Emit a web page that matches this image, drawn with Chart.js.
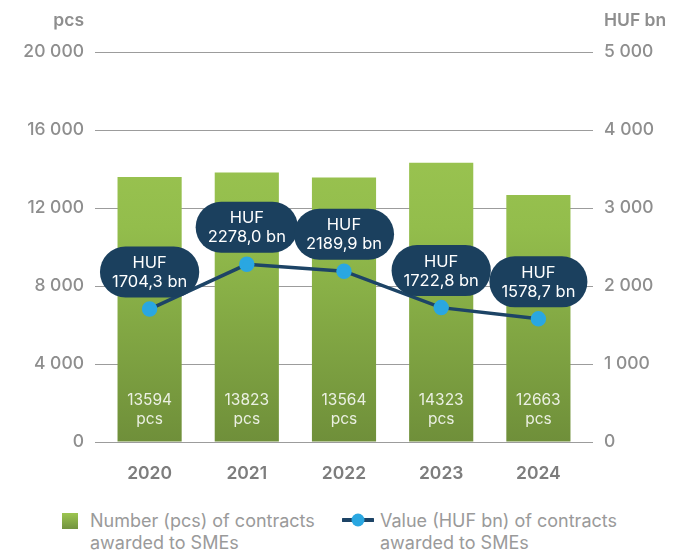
<!DOCTYPE html>
<html>
<head>
<meta charset="utf-8">
<script src="https://cdn.jsdelivr.net/npm/chart.js@4.4.1/dist/chart.umd.min.js"></script>
<style>
  body { margin: 0; background: #fff; font-family: Inter, "Noto Sans", sans-serif; }
  #wrap { position: relative; width: 699px; height: 554px; }
  #chartBox { position: absolute; left: 0; top: 0; width: 699px; height: 500px; }
  .legend { position: absolute; top: 510px; font-size: 18px; line-height: 22px; color: #9a9a9a; }
  .legend .mark { position: absolute; left: 0; top: 3px; }
  .legend .txt { position: absolute; left: 28px; top: 0; white-space: nowrap; }
</style>
</head>
<body>
<div id="wrap">
  <div id="chartBox"><canvas id="smeChart" width="699" height="500"></canvas></div>
  <div class="legend" id="legBar" style="left:62px;">
    <div class="mark" style="width:16px;height:16px;background:linear-gradient(#9cc550,#729340);"></div>
    <div class="txt">Number (pcs) of contracts<br>awarded to SMEs</div>
  </div>
  <div class="legend" id="legLine" style="left:342px;">
    <svg class="mark" width="32" height="16" style="top:2px;">
      <line x1="1" y1="8" x2="31" y2="8" stroke="#1d4466" stroke-width="4" stroke-linecap="round"/>
      <circle cx="16" cy="8" r="6.5" fill="#2aa7e1"/>
    </svg>
    <div class="txt" style="left:38px;">Value (HUF bn) of contracts<br>awarded to SMEs</div>
  </div>
</div>
<script>
const years = ['2020', '2021', '2022', '2023', '2024'];
const contractsPcs = [13594, 13823, 13564, 14323, 12663];
const valueHufBn = [1704.3, 2278.0, 2189.9, 1722.8, 1578.7];
const leftTicks = [0, 4000, 8000, 12000, 16000, 20000];
const rightTicks = [0, 1000, 2000, 3000, 4000, 5000];

const tickColor = '#8e8e8e';
const gridColor = '#9c9c9c';

function spaced(v) {
  return String(v).replace(/\B(?=(\d{3})+(?!\d))/g, ' ');
}

function barGradient(context) {
  const area = context.chart.chartArea;
  if (!area) return '#8fb34a';
  const g = context.chart.ctx.createLinearGradient(0, area.top, 0, area.bottom);
  g.addColorStop(0, '#a2cb55');
  g.addColorStop(0.45, '#93bd4c');
  g.addColorStop(1, '#6f8f3a');
  return g;
}

// axis titles, bar labels and value bubbles
const extras = {
  id: 'extras',
  afterDatasetsDraw(chart) {
    const ctx = chart.ctx;
    const area = chart.chartArea;
    ctx.save();

    ctx.fillStyle = tickColor;
    ctx.font = '600 17.5px Inter, "Noto Sans", sans-serif';
    ctx.textBaseline = 'middle';
    ctx.textAlign = 'right';
    ctx.fillText('pcs', 84, 21);
    ctx.textAlign = 'left';
    ctx.fillText('HUF bn', 604, 21);

    const barMeta = chart.getDatasetMeta(1);
    ctx.font = '15.5px Inter, "Noto Sans", sans-serif';
    ctx.fillStyle = 'rgba(255,255,255,0.85)';
    ctx.textAlign = 'center';
    barMeta.data.forEach((bar, i) => {
      ctx.fillText(String(contractsPcs[i]), bar.x, area.bottom - 42);
      ctx.fillText('pcs', bar.x, area.bottom - 23);
    });

    const lineMeta = chart.getDatasetMeta(0);
    ctx.font = '16.5px Inter, "Noto Sans", sans-serif';
    lineMeta.data.forEach((pt, i) => {
      const line2 = valueHufBn[i].toFixed(1).replace('.', ',') + ' bn';
      const w = ctx.measureText(line2).width + 24;
      const h = 51;
      const cx = pt.x;
      const cy = pt.y - 37;
      ctx.fillStyle = '#1b405e';
      ctx.beginPath();
      ctx.roundRect(cx - w / 2, cy - h / 2, w, h, h / 2);
      ctx.fill();
      ctx.fillStyle = '#ffffff';
      ctx.fillText('HUF', cx, cy - 9);
      ctx.fillText(line2, cx, cy + 10);
    });
    ctx.restore();
  }
};

new Chart(document.getElementById('smeChart'), {
  type: 'bar',
  data: {
    labels: years,
    datasets: [
      {
        type: 'line',
        label: 'Value (HUF bn) of contracts awarded to SMEs',
        data: valueHufBn,
        yAxisID: 'y1',
        borderColor: '#1d4466',
        borderWidth: 3.5,
        pointBackgroundColor: '#2aa7e1',
        pointBorderColor: '#2aa7e1',
        pointRadius: 6,
        tension: 0,
        order: 0
      },
      {
        label: 'Number (pcs) of contracts awarded to SMEs',
        data: contractsPcs,
        yAxisID: 'y',
        backgroundColor: barGradient,
        categoryPercentage: 1,
        barPercentage: 0.66,
        order: 1
      }
    ]
  },
  plugins: [extras],
  options: {
    responsive: false,
    animation: false,
    layout: { padding: { top: 52, bottom: 0 } },
    plugins: {
      legend: { display: false },
      tooltip: { enabled: false }
    },
    scales: {
      x: {
        grid: { display: false },
        border: { display: false },
        ticks: {
          color: '#7d7d7d',
          padding: 13,
          maxRotation: 0,
          font: { family: 'Inter', size: 17.5, weight: '600' }
        },
        afterFit(scale) { scale.height = 58; }
      },
      y: {
        position: 'left',
        min: 0,
        max: 20000,
        afterBuildTicks(scale) { scale.ticks = leftTicks.map(v => ({ value: v })); },
        grid: { color: gridColor, lineWidth: 1, tickLength: 6 },
        border: { display: false },
        ticks: {
          color: tickColor,
          padding: 11,
          font: { family: 'Inter', size: 17.5, weight: '500' },
          callback: v => spaced(v)
        },
        afterFit(scale) { scale.width = 101; }
      },
      y1: {
        position: 'right',
        min: 0,
        max: 5000,
        afterBuildTicks(scale) { scale.ticks = rightTicks.map(v => ({ value: v })); },
        grid: { drawOnChartArea: false, color: gridColor, lineWidth: 1, tickLength: 6 },
        border: { display: false },
        ticks: {
          color: tickColor,
          padding: 11,
          font: { family: 'Inter', size: 17.5, weight: '500' },
          callback: v => spaced(v)
        },
        afterFit(scale) { scale.width = 112; }
      }
    }
  }
});
</script>
</body>
</html>
